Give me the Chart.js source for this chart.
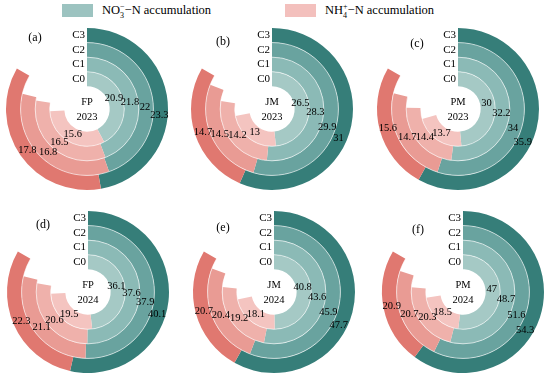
<!DOCTYPE html>
<html lang="en">
<head>
<meta charset="UTF-8">
<title>NO3 and NH4 accumulation</title>
<style>
    body {
        margin: 0;
        width: 550px;
        height: 378px;
        background: #fff;
        position: relative;
        overflow: hidden;
        font-family: "Liberation Serif", "Times New Roman", serif;
    }
    .box {
        position: absolute;
        top: 4px;
        width: 31px;
        height: 13px;
    }
    .ltext {
        position: absolute;
        top: 2px;
        font-size: 12.5px;
        line-height: 16px;
        color: #000;
        white-space: nowrap;
    }
    .ltext sub, .ltext sup {
        font-size: 8px;
        line-height: 0;
    }
    .ltext sup { margin-left: -4px; }
    canvas { position: absolute; }
</style>
<script src="https://cdn.jsdelivr.net/npm/chart.js"></script>
</head>
<body>
<div class="box" style="left:62px;background:#9cc3c0"></div>
<div class="ltext" style="left:102px">NO<sub>3</sub><sup>&minus;</sup>&minus;N accumulation</div>
<div class="box" style="left:285px;background:#f3c0bd"></div>
<div class="ltext" style="left:325px">NH<sub>4</sub><sup>+</sup>&minus;N accumulation</div>
<script>
    // treatments, inner ring to outer ring
    const treatments = ['C0', 'C1', 'C2', 'C3'];
    const panelTags = ['(a)', '(b)', '(c)', '(d)', '(e)', '(f)'];
    const sites = ['FP', 'JM', 'PM', 'FP', 'JM', 'PM'];
    const years = ['2023', '2023', '2023', '2024', '2024', '2024'];

    // NO3- -N accumulation, C0..C3
    const no3FP2023 = [20.9, 21.8, 22, 23.3];
    const no3JM2023 = [26.5, 28.3, 29.9, 31];
    const no3PM2023 = [30, 32.2, 34, 35.9];
    const no3FP2024 = [36.1, 37.6, 37.9, 40.1];
    const no3JM2024 = [40.8, 43.6, 45.9, 47.7];
    const no3PM2024 = [47, 48.7, 51.6, 54.3];

    // NH4+ -N accumulation, C0..C3
    const nh4FP2023 = [15.6, 16.5, 16.8, 17.8];
    const nh4JM2023 = [13, 14.2, 14.5, 14.7];
    const nh4PM2023 = [13.7, 14.4, 14.7, 15.6];
    const nh4FP2024 = [19.5, 20.6, 21.1, 22.3];
    const nh4JM2024 = [18.1, 19.2, 20.4, 20.7];
    const nh4PM2024 = [18.5, 20.3, 20.7, 20.9];

    const no3Sets = [no3FP2023, no3JM2023, no3PM2023, no3FP2024, no3JM2024, no3PM2024];
    const nh4Sets = [nh4FP2023, nh4JM2023, nh4PM2023, nh4FP2024, nh4JM2024, nh4PM2024];

    const tealShades = ['#a5c9c5', '#8bbab6', '#69a39f', '#367e79'];
    const pinkShades = ['#f4c4c0', '#efb1ab', '#e99b94', '#e07870'];

    // layout: panel centres, tag offsets, where along the teal arc its label sits (per ring)
    const centers = [[87, 109], [272, 109], [458, 109], [88, 292], [274, 292], [463, 292]];
    const tagOffsets = [[-52, -71], [-49, -67], [-41, -65], [-45, -67], [-51, -64], [-45, -62]];
    const tealLabelFrac = [0.45, 0.51, 0.55, 0.56];
    const SIZE = 184;
    const FONT = '"Liberation Serif", "Times New Roman", serif';

    const ringLabels = {
        id: 'ringLabels',
        afterDatasetsDraw(chart, args, opts) {
            const ctx = chart.ctx;
            const n = chart.data.datasets.length;
            let cx = 0, cy = 0;
            ctx.save();
            // thin white separators between rings
            ctx.strokeStyle = 'rgba(255,255,255,0.85)';
            ctx.lineWidth = 0.7;
            for (let d = 0; d < n - 1; d++) {
                const arc = chart.getDatasetMeta(d).data[0];
                ctx.beginPath();
                ctx.arc(arc.x, arc.y, arc.innerRadius, 0, Math.PI * 2);
                ctx.stroke();
            }
            ctx.fillStyle = '#000';
            ctx.textBaseline = 'middle';
            for (let d = 0; d < n; d++) {
                const ds = chart.data.datasets[d];
                const meta = chart.getDatasetMeta(d);
                const ring = n - 1 - d;
                for (let j = 0; j < 2; j++) {
                    const arc = meta.data[j];
                    const f = j === 0 ? tealLabelFrac[ring] : 0.5;
                    const ang = arc.startAngle + (arc.endAngle - arc.startAngle) * f;
                    const r = (arc.innerRadius + arc.outerRadius) / 2 - 1;
                    ctx.font = '10.5px ' + FONT;
                    ctx.textAlign = 'center';
                    ctx.fillText(String(ds.data[j]), arc.x + Math.cos(ang) * r, arc.y + Math.sin(ang) * r);
                }
                const a0 = meta.data[0];
                cx = a0.x; cy = a0.y;
                ctx.font = '11px ' + FONT;
                ctx.textAlign = 'right';
                ctx.fillText(ds.label, a0.x - 2, a0.y - (a0.innerRadius + a0.outerRadius) / 2);
            }
            ctx.textAlign = 'center';
            ctx.font = '10.5px ' + FONT;
            ctx.fillText(opts.site, cx, cy - 7);
            ctx.fillText(opts.year, cx, cy + 8);
            ctx.font = '12px ' + FONT;
            ctx.fillText(opts.tag, cx + opts.tagOffset[0], cy + opts.tagOffset[1]);
            ctx.restore();
        }
    };

    panelTags.forEach(function (tag, p) {
        const no3 = no3Sets[p];
        const nh4 = nh4Sets[p];
        const totals = no3.map(function (v, i) { return v + nh4[i]; });
        const scaleMax = Math.max.apply(null, totals) * 1.2;

        // Chart.js draws dataset 0 as the outer ring
        const datasets = [];
        for (let i = treatments.length - 1; i >= 0; i--) {
            datasets.push({
                label: treatments[i],
                data: [no3[i], nh4[i], +(scaleMax - totals[i]).toFixed(3)],
                backgroundColor: [tealShades[i], pinkShades[i], 'rgba(0,0,0,0)'],
                borderWidth: 0
            });
        }

        const canvas = document.createElement('canvas');
        canvas.width = SIZE;
        canvas.height = SIZE;
        canvas.style.width = SIZE + 'px';
        canvas.style.height = SIZE + 'px';
        canvas.style.left = (centers[p][0] - SIZE / 2) + 'px';
        canvas.style.top = (centers[p][1] - SIZE / 2) + 'px';
        document.body.appendChild(canvas);

        new Chart(canvas.getContext('2d'), {
            type: 'doughnut',
            data: {
                labels: ['NO3', 'NH4', ''],
                datasets: datasets
            },
            options: {
                responsive: false,
                animation: false,
                events: [],
                cutout: '28%',
                layout: { padding: 11 },
                plugins: {
                    legend: { display: false },
                    tooltip: { enabled: false },
                    ringLabels: { site: sites[p], year: years[p], tag: tag, tagOffset: tagOffsets[p] }
                }
            },
            plugins: [ringLabels]
        });
    });
</script>
</body>
</html>
